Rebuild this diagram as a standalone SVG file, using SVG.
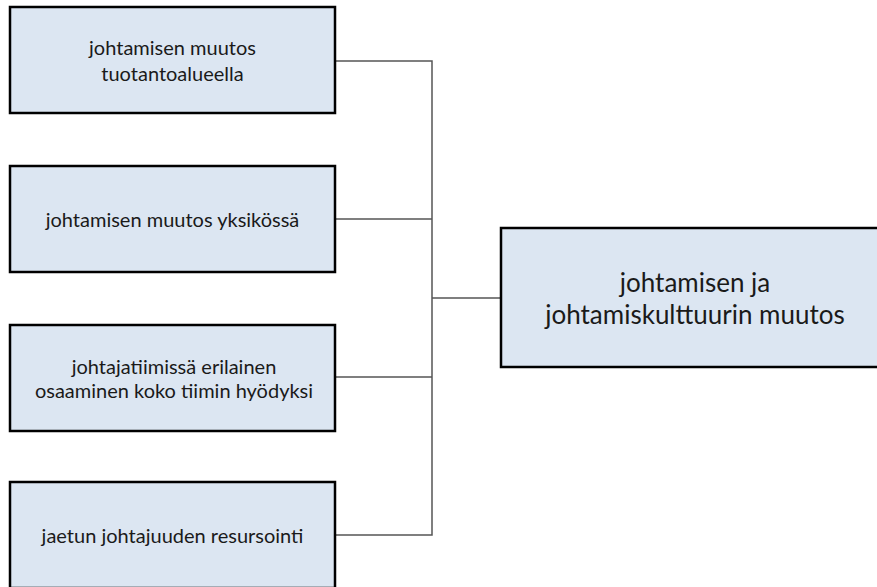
<svg xmlns="http://www.w3.org/2000/svg" width="877" height="587" viewBox="0 0 877 587">
  <style>
    .box { fill: #dce6f2; stroke: #000000; stroke-width: 2.5; }
    .lbl { font-family: Lato, "Liberation Sans", sans-serif; font-size: 20px; fill: #1a1a1a; text-anchor: middle; }
    .big { font-size: 26px; }
    .wire { fill: none; stroke: #555555; stroke-width: 1.5; }
  </style>
  <rect width="877" height="587" fill="#ffffff"/>

  <g id="connectors">
    <path class="wire" d="M335 61 H432 V535 H335"/>
    <path class="wire" d="M335 219 H432"/>
    <path class="wire" d="M335 377 H432"/>
    <path class="wire" d="M432 298 H501"/>
  </g>

  <g id="node-tuotantoalue">
    <rect class="box" x="10" y="7" width="325" height="106"/>
    <text class="lbl" x="172.5" y="55">johtamisen muutos</text>
    <text class="lbl" x="172.5" y="80.5">tuotantoalueella</text>
  </g>

  <g id="node-yksikko">
    <rect class="box" x="10" y="166" width="325" height="106"/>
    <text class="lbl" x="172.5" y="227">johtamisen muutos yksikössä</text>
  </g>

  <g id="node-johtajatiimi">
    <rect class="box" x="10" y="325" width="325" height="106"/>
    <text class="lbl" x="174" y="373.5">johtajatiimissä erilainen</text>
    <text class="lbl" x="174" y="398">osaaminen koko tiimin hyödyksi</text>
  </g>

  <g id="node-jaettu">
    <rect class="box" x="10" y="482" width="325" height="106"/>
    <text class="lbl" x="172.5" y="543">jaetun johtajuuden resursointi</text>
  </g>

  <g id="node-kulttuuri">
    <rect class="box" x="501" y="228" width="388" height="139"/>
    <text class="lbl big" x="695" y="292">johtamisen ja</text>
    <text class="lbl big" x="695" y="323.5">johtamiskulttuurin muutos</text>
  </g>
</svg>
